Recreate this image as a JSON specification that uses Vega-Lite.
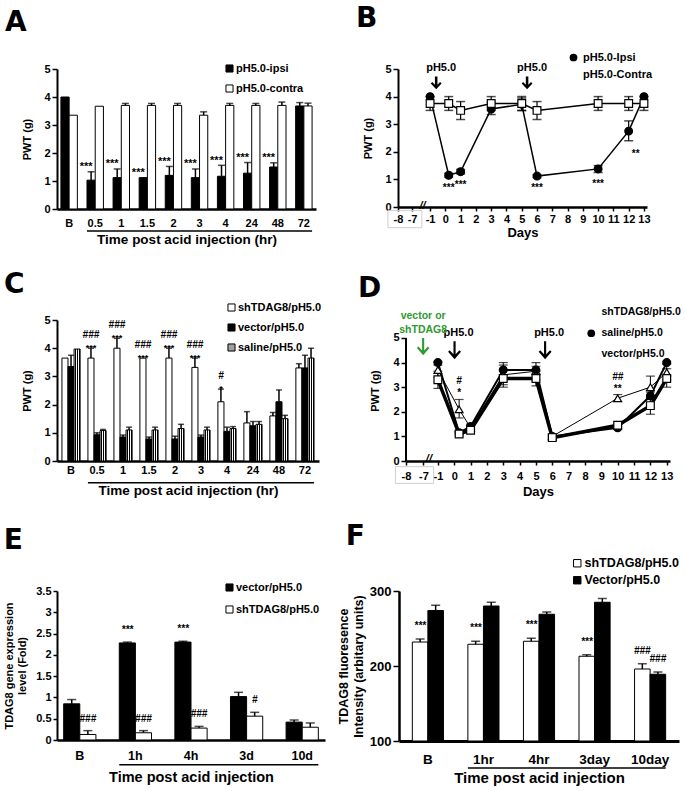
{
"$schema": "https://vega.github.io/schema/vega-lite/v6.json",
"background": "white",
"padding": {"left": 3, "top": 5, "right": 0, "bottom": 0},
"spacing": 25,
"resolve": {"scale": {"x": "independent", "y": "independent", "xOffset": "independent", "fill": "independent", "shape": "independent"}, "legend": {"fill": "independent", "shape": "independent"}, "axis": {"x": "independent", "y": "independent"}},
"config": {
  "font": "Liberation Sans",
  "view": {"stroke": null},
  "title": {"font": "DejaVu Sans", "fontSize": 28, "fontWeight": "bold", "anchor": "start", "frame": "bounds", "color": "black"},
  "axis": {"grid": false, "domainColor": "black", "domainWidth": 2, "tickColor": "black", "tickWidth": 1.5, "tickSize": 5, "labelColor": "black", "labelFont": "Liberation Sans", "labelFontWeight": "bold", "labelFontSize": 11, "titleColor": "black", "titleFont": "Liberation Sans", "titleFontWeight": "bold", "titleFontSize": 11},
  "legend": {"labelFont": "Liberation Sans", "labelFontWeight": "bold", "labelFontSize": 11, "labelColor": "black", "padding": 0, "symbolStrokeColor": "black"},
  "text": {"font": "Liberation Sans", "fontWeight": "bold", "color": "black"}
},
"vconcat": [
{"hconcat": [
{
  "title": {"text": "A", "dx": -17, "offset": 26},
  "width": 259, "height": 140,
  "resolve": {"axis": {"x": "independent", "y": "independent"}},
  "layer": [
  {
    "data": {"values": [
      {"t":"B","g":"pH5.0-ipsi","v":4.0,"hi":4.0,"sig":""},
      {"t":"B","g":"pH5.0-contra","v":3.35,"hi":3.35,"sig":""},
      {"t":"0.5","g":"pH5.0-ipsi","v":1.03,"hi":1.33,"sig":"***"},
      {"t":"0.5","g":"pH5.0-contra","v":3.67,"hi":3.67,"sig":""},
      {"t":"1","g":"pH5.0-ipsi","v":1.12,"hi":1.43,"sig":"***"},
      {"t":"1","g":"pH5.0-contra","v":3.7,"hi":3.77,"sig":""},
      {"t":"1.5","g":"pH5.0-ipsi","v":1.12,"hi":1.12,"sig":"***"},
      {"t":"1.5","g":"pH5.0-contra","v":3.7,"hi":3.77,"sig":""},
      {"t":"2","g":"pH5.0-ipsi","v":1.2,"hi":1.52,"sig":"***"},
      {"t":"2","g":"pH5.0-contra","v":3.7,"hi":3.77,"sig":""},
      {"t":"3","g":"pH5.0-ipsi","v":1.12,"hi":1.43,"sig":"***"},
      {"t":"3","g":"pH5.0-contra","v":3.35,"hi":3.47,"sig":""},
      {"t":"4","g":"pH5.0-ipsi","v":1.17,"hi":1.56,"sig":"***"},
      {"t":"4","g":"pH5.0-contra","v":3.7,"hi":3.77,"sig":""},
      {"t":"24","g":"pH5.0-ipsi","v":1.28,"hi":1.66,"sig":"***"},
      {"t":"24","g":"pH5.0-contra","v":3.7,"hi":3.77,"sig":""},
      {"t":"48","g":"pH5.0-ipsi","v":1.5,"hi":1.65,"sig":"***"},
      {"t":"48","g":"pH5.0-contra","v":3.7,"hi":3.82,"sig":""},
      {"t":"72","g":"pH5.0-ipsi","v":3.68,"hi":3.8,"sig":""},
      {"t":"72","g":"pH5.0-contra","v":3.68,"hi":3.78,"sig":""}
    ]},
    "encoding": {
      "x": {"field": "t", "type": "nominal", "scale": {"domain": ["B","0.5","1","1.5","2","3","4","24","48","72"], "paddingInner": 0.37, "paddingOuter": 0.15}, "axis": {"title": "Time post acid injection (hr)", "labelAngle": 0, "ticks": false, "tickSize": 0, "labelPadding": 8, "titlePadding": 4, "titleFontSize": 13.5, "domainWidth": 2.5}},
      "xOffset": {"field": "g", "type": "nominal", "scale": {"domain": ["pH5.0-ipsi","pH5.0-contra"]}},
      "y": {"field": "v", "type": "quantitative", "scale": {"domain": [0, 5]}, "axis": {"title": "PWT (g)", "values": [0,1,2,3,4,5], "titlePadding": 11}}
    },
    "layer": [
      {"mark": {"type": "bar", "stroke": "black", "strokeWidth": 1},
       "encoding": {"fill": {"field": "g", "type": "nominal", "scale": {"domain": ["pH5.0-ipsi","pH5.0-contra"], "range": ["black","white"]},
         "legend": {"title": null, "orient": "none", "legendX": 167, "legendY": -6, "symbolType": "square", "symbolSize": 50, "symbolStrokeColor": "black", "symbolStrokeWidth": 1, "labelOffset": 1, "rowPadding": 7}}}},
      {"transform": [{"filter": "datum.hi > datum.v"}], "mark": {"type": "rule", "color": "black", "strokeWidth": 1.5}, "encoding": {"y2": {"field": "hi"}}},
      {"transform": [{"filter": "datum.hi > datum.v"}], "mark": {"type": "tick", "orient": "horizontal", "color": "black", "size": 7, "thickness": 1.5}, "encoding": {"y": {"field": "hi", "type": "quantitative"}}},
      {"transform": [{"filter": "datum.sig != ''"}], "mark": {"type": "text", "fill": "black", "fontSize": 11, "dx": -5, "dy": -1.5, "baseline": "alphabetic"}, "encoding": {"y": {"field": "hi", "type": "quantitative"}, "text": {"field": "sig"}}}
    ]
  },
  {
    "data": {"values": [{"a": "0.5", "b": "72"}]},
    "mark": {"type": "rule", "color": "black", "strokeWidth": 1.5},
    "encoding": {
      "x": {"field": "a", "type": "nominal", "bandPosition": 0, "scale": {"domain": ["B","0.5","1","1.5","2","3","4","24","48","72"]}, "axis": null},
      "x2": {"field": "b", "bandPosition": 1},
      "y": {"datum": -0.79, "type": "quantitative", "scale": {"domain": [0, 5]}, "axis": null}
    }
  }
  ]
},
{
  "title": {"text": "B", "dx": -7, "offset": 19},
  "width": 249, "height": 138,
  "resolve": {"axis": {"x": "independent", "y": "independent"}},
  "layer": [
  {
    "data": {"values": [
      {"s":"pH5.0-Ipsi","day":-1,"v":4.0,"lo":4.0,"hi":4.0,"sig":""},
      {"s":"pH5.0-Ipsi","day":0.22,"v":1.15,"lo":1.08,"hi":1.22,"sig":"***"},
      {"s":"pH5.0-Ipsi","day":1,"v":1.28,"lo":1.2,"hi":1.36,"sig":"***"},
      {"s":"pH5.0-Ipsi","day":3,"v":3.55,"lo":3.35,"hi":3.8,"sig":""},
      {"s":"pH5.0-Ipsi","day":5,"v":3.72,"lo":3.5,"hi":3.95,"sig":""},
      {"s":"pH5.0-Ipsi","day":6,"v":1.12,"lo":1.07,"hi":1.17,"sig":"***"},
      {"s":"pH5.0-Ipsi","day":10,"v":1.38,"lo":1.25,"hi":1.5,"sig":"***"},
      {"s":"pH5.0-Ipsi","day":12,"v":2.75,"lo":2.4,"hi":3.12,"sig":"**"},
      {"s":"pH5.0-Ipsi","day":13,"v":4.0,"lo":4.0,"hi":4.0,"sig":""},
      {"s":"pH5.0-Contra","day":-1,"v":3.75,"lo":3.5,"hi":4.0,"sig":""},
      {"s":"pH5.0-Contra","day":0.22,"v":3.75,"lo":3.5,"hi":4.0,"sig":""},
      {"s":"pH5.0-Contra","day":1,"v":3.5,"lo":3.17,"hi":3.82,"sig":""},
      {"s":"pH5.0-Contra","day":3,"v":3.75,"lo":3.5,"hi":4.0,"sig":""},
      {"s":"pH5.0-Contra","day":5,"v":3.75,"lo":3.5,"hi":4.0,"sig":""},
      {"s":"pH5.0-Contra","day":6,"v":3.5,"lo":3.17,"hi":3.82,"sig":""},
      {"s":"pH5.0-Contra","day":10,"v":3.75,"lo":3.5,"hi":4.0,"sig":""},
      {"s":"pH5.0-Contra","day":12,"v":3.75,"lo":3.5,"hi":4.0,"sig":""},
      {"s":"pH5.0-Contra","day":13,"v":3.75,"lo":3.5,"hi":4.0,"sig":""}
    ]},
    "encoding": {
      "x": {"field": "day", "type": "quantitative", "scale": {"domain": [-3.1, 13.2], "nice": false, "zero": false}, "axis": {"title": "Days", "values": [-3.1,-2.18,-1,0,1,2,3,4,5,6,7,8,9,10,11,12,13], "labelExpr": "datum.value < -3 ? '-8' : datum.value < -2 ? '-7' : '' + datum.value", "tickSize": 4, "labelPadding": 2, "titlePadding": 2, "titleFontSize": 13, "labelFlush": false, "labelOverlap": false, "domainWidth": 2.5}},
      "y": {"field": "v", "type": "quantitative", "scale": {"domain": [0, 5]}, "axis": {"title": "PWT (g)", "values": [0,1,2,3,4,5], "titlePadding": 11}}
    },
    "layer": [
      {"mark": {"type": "line", "color": "black", "strokeWidth": 1.5}, "encoding": {"detail": {"field": "s"}}},
      {"transform": [{"filter": "datum.hi > datum.lo"}], "mark": {"type": "rule", "color": "black", "strokeWidth": 1.2}, "encoding": {"y": {"field": "lo", "type": "quantitative"}, "y2": {"field": "hi"}}},
      {"transform": [{"filter": "datum.hi > datum.lo"}], "mark": {"type": "tick", "orient": "horizontal", "color": "black", "size": 9, "thickness": 1.5}, "encoding": {"y": {"field": "lo", "type": "quantitative"}}},
      {"transform": [{"filter": "datum.hi > datum.lo"}], "mark": {"type": "tick", "orient": "horizontal", "color": "black", "size": 9, "thickness": 1.5}, "encoding": {"y": {"field": "hi", "type": "quantitative"}}},
      {"mark": {"type": "point", "color": "black", "stroke": "black", "strokeWidth": 1.2, "opacity": 1, "fillOpacity": 1, "size": 60},
       "encoding": {
         "shape": {"field": "s", "type": "nominal", "scale": {"domain": ["pH5.0-Ipsi","pH5.0-Contra"], "range": ["circle","square"]},
           "legend": {"title": null, "orient": "none", "legendX": 170, "legendY": -17, "labelOffset": 4, "rowPadding": 4, "symbolSize": 60, "symbolStrokeColor": "black", "symbolStrokeWidth": 1.2}},
         "fill": {"field": "s", "type": "nominal", "scale": {"domain": ["pH5.0-Ipsi","pH5.0-Contra"], "range": ["black","white"]},
           "legend": {"title": null, "orient": "none", "legendX": 170, "legendY": -17, "labelOffset": 4, "rowPadding": 4, "symbolSize": 60, "symbolStrokeColor": "black", "symbolStrokeWidth": 1.2}}
       }},
      {"transform": [{"filter": "datum.sig == '***'"}], "mark": {"type": "text", "fill": "black", "fontSize": 10, "dy": 14, "baseline": "alphabetic"}, "encoding": {"y": {"field": "lo", "type": "quantitative"}, "text": {"field": "sig"}}},
      {"transform": [{"filter": "datum.sig == '**'"}], "mark": {"type": "text", "fill": "black", "fontSize": 10, "dx": 7, "dy": 16, "baseline": "alphabetic"}, "encoding": {"y": {"field": "lo", "type": "quantitative"}, "text": {"field": "sig"}}}
    ]
  },
  {
    "data": {"values": [{"day": -0.6, "label": "pH5.0"}, {"day": 5.35, "label": "pH5.0"}]},
    "layer": [
      {"mark": {"type": "point", "filled": true, "color": "black", "opacity": 1, "size": 160, "shape": "M-0.2,-1L0.2,-1L0.2,0.3L0.62,-0.12L0.85,0.12L0,1L-0.85,0.12L-0.62,-0.12L-0.2,0.3Z"},
       "encoding": {"x": {"field": "day", "type": "quantitative", "scale": {"domain": [-3.1, 13.2]}, "axis": null}, "y": {"datum": 4.5, "type": "quantitative", "scale": {"domain": [0, 5]}, "axis": null}}},
      {"mark": {"type": "text", "fill": "black", "fontSize": 11, "dx": 5, "baseline": "middle"},
       "encoding": {"x": {"field": "day", "type": "quantitative", "scale": {"domain": [-3.1, 13.2]}, "axis": null}, "y": {"datum": 5.03, "type": "quantitative", "scale": {"domain": [0, 5]}, "axis": null}, "text": {"field": "label"}}}
    ]
  },
  {
    "data": {"values": [{}]},
    "layer": [
      {"mark": {"type": "rect", "fillOpacity": 0, "stroke": "#cfcfcf", "strokeWidth": 1},
       "encoding": {"x": {"datum": -3.76, "type": "quantitative", "scale": {"domain": [-3.1, 13.2]}, "axis": null}, "x2": {"datum": -1.54}, "y": {"datum": -0.13, "type": "quantitative", "scale": {"domain": [0, 5]}, "axis": null}, "y2": {"datum": -0.75}}},
      {"mark": {"type": "text", "fill": "black", "fontSize": 11, "fontStyle": "italic", "text": "//", "baseline": "middle"},
       "encoding": {"x": {"datum": -1.5, "type": "quantitative", "scale": {"domain": [-3.1, 13.2]}, "axis": null}, "y": {"datum": 0.05, "type": "quantitative", "scale": {"domain": [0, 5]}, "axis": null}}}
    ]
  }
  ]
}
], "spacing": 39, "resolve": {"scale": {"x": "independent", "y": "independent", "xOffset": "independent", "fill": "independent", "shape": "independent"}, "legend": {"fill": "independent", "shape": "independent"}}},
{"hconcat": [
{
  "title": {"text": "C", "dx": -18, "offset": 3},
  "width": 262, "height": 141,
  "resolve": {"axis": {"x": "independent", "y": "independent"}},
  "layer": [
  {
    "data": {"values": [
      {"t":"B","g":"shTDAG8/pH5.0","v":3.65,"hi":3.65,"s1":"","s2":""},
      {"t":"B","g":"vector/pH5.0","v":3.35,"hi":3.75,"s1":"","s2":""},
      {"t":"B","g":"saline/pH5.0","v":3.97,"hi":3.97,"s1":"","s2":""},
      {"t":"0.5","g":"shTDAG8/pH5.0","v":3.65,"hi":4.0,"s1":"***","s2":"###"},
      {"t":"0.5","g":"vector/pH5.0","v":0.93,"hi":1.0,"s1":"","s2":""},
      {"t":"0.5","g":"saline/pH5.0","v":1.08,"hi":1.12,"s1":"","s2":""},
      {"t":"1","g":"shTDAG8/pH5.0","v":4.0,"hi":4.35,"s1":"***","s2":"###"},
      {"t":"1","g":"vector/pH5.0","v":0.85,"hi":0.92,"s1":"","s2":""},
      {"t":"1","g":"saline/pH5.0","v":1.1,"hi":1.2,"s1":"","s2":""},
      {"t":"1.5","g":"shTDAG8/pH5.0","v":3.65,"hi":3.65,"s1":"***","s2":"###"},
      {"t":"1.5","g":"vector/pH5.0","v":0.78,"hi":0.85,"s1":"","s2":""},
      {"t":"1.5","g":"saline/pH5.0","v":1.1,"hi":1.2,"s1":"","s2":""},
      {"t":"2","g":"shTDAG8/pH5.0","v":3.65,"hi":4.0,"s1":"***","s2":"###"},
      {"t":"2","g":"vector/pH5.0","v":0.78,"hi":0.88,"s1":"","s2":""},
      {"t":"2","g":"saline/pH5.0","v":1.15,"hi":1.3,"s1":"","s2":""},
      {"t":"3","g":"shTDAG8/pH5.0","v":3.32,"hi":3.65,"s1":"***","s2":"###"},
      {"t":"3","g":"vector/pH5.0","v":0.85,"hi":0.92,"s1":"","s2":""},
      {"t":"3","g":"saline/pH5.0","v":1.1,"hi":1.2,"s1":"","s2":""},
      {"t":"4","g":"shTDAG8/pH5.0","v":2.1,"hi":2.55,"s1":"*","s2":"#"},
      {"t":"4","g":"vector/pH5.0","v":1.05,"hi":1.2,"s1":"","s2":""},
      {"t":"4","g":"saline/pH5.0","v":1.15,"hi":1.22,"s1":"","s2":""},
      {"t":"24","g":"shTDAG8/pH5.0","v":1.35,"hi":1.75,"s1":"","s2":""},
      {"t":"24","g":"vector/pH5.0","v":1.25,"hi":1.4,"s1":"","s2":""},
      {"t":"24","g":"saline/pH5.0","v":1.3,"hi":1.4,"s1":"","s2":""},
      {"t":"48","g":"shTDAG8/pH5.0","v":1.6,"hi":1.72,"s1":"","s2":""},
      {"t":"48","g":"vector/pH5.0","v":2.1,"hi":2.52,"s1":"","s2":""},
      {"t":"48","g":"saline/pH5.0","v":1.5,"hi":1.62,"s1":"","s2":""},
      {"t":"72","g":"shTDAG8/pH5.0","v":3.3,"hi":3.45,"s1":"","s2":""},
      {"t":"72","g":"vector/pH5.0","v":3.3,"hi":3.75,"s1":"","s2":""},
      {"t":"72","g":"saline/pH5.0","v":3.65,"hi":4.0,"s1":"","s2":""}
    ]},
    "encoding": {
      "x": {"field": "t", "type": "nominal", "scale": {"domain": ["B","0.5","1","1.5","2","3","4","24","48","72"], "paddingInner": 0.3, "paddingOuter": 0.19}, "axis": {"title": "Time post acid injection (hr)", "labelAngle": 0, "ticks": false, "tickSize": 0, "labelPadding": 3, "titlePadding": 8, "titleFontSize": 13.5, "domainWidth": 2.5}},
      "xOffset": {"field": "g", "type": "nominal", "scale": {"domain": ["shTDAG8/pH5.0","vector/pH5.0","saline/pH5.0"]}},
      "y": {"field": "v", "type": "quantitative", "scale": {"domain": [0, 5]}, "axis": {"title": "PWT (g)", "values": [0,1,2,3,4,5], "titlePadding": 11}}
    },
    "layer": [
      {"mark": {"type": "bar", "stroke": "black", "strokeWidth": 1},
       "encoding": {"fill": {
         "condition": {"test": "datum.g === 'saline/pH5.0'", "value": {"gradient": "linear", "x1": 0, "y1": 0, "x2": 1, "y2": 0, "stops": [
           {"offset": 0, "color": "white"}, {"offset": 0.12, "color": "white"}, {"offset": 0.12, "color": "black"}, {"offset": 0.3, "color": "black"},
           {"offset": 0.3, "color": "white"}, {"offset": 0.45, "color": "white"}, {"offset": 0.45, "color": "black"}, {"offset": 0.63, "color": "black"},
           {"offset": 0.63, "color": "white"}, {"offset": 0.78, "color": "white"}, {"offset": 0.78, "color": "black"}, {"offset": 0.96, "color": "black"},
           {"offset": 0.96, "color": "white"}, {"offset": 1, "color": "white"}]}},
         "field": "g", "type": "nominal", "scale": {"domain": ["shTDAG8/pH5.0","vector/pH5.0","saline/pH5.0"], "range": ["white","black","#a0a0a0"]},
         "legend": {"title": null, "orient": "none", "legendX": 169, "legendY": -18, "symbolType": "square", "symbolSize": 50, "symbolStrokeColor": "black", "symbolStrokeWidth": 1, "labelOffset": 1, "rowPadding": 7}}}},
      {"transform": [{"filter": "datum.hi > datum.v"}], "mark": {"type": "rule", "color": "black", "strokeWidth": 1.5}, "encoding": {"y2": {"field": "hi"}}},
      {"transform": [{"filter": "datum.hi > datum.v"}], "mark": {"type": "tick", "orient": "horizontal", "color": "black", "size": 6, "thickness": 1.5}, "encoding": {"y": {"field": "hi", "type": "quantitative"}}},
      {"transform": [{"filter": "datum.s1 != ''"}], "mark": {"type": "text", "fill": "black", "fontSize": 9, "dy": 3, "baseline": "alphabetic"}, "encoding": {"y": {"field": "hi", "type": "quantitative"}, "text": {"field": "s1"}}},
      {"transform": [{"filter": "datum.s2 != ''"}], "mark": {"type": "text", "fill": "black", "fontSize": 10, "fontStyle": "italic", "dy": -10, "baseline": "alphabetic"}, "encoding": {"y": {"field": "hi", "type": "quantitative"}, "text": {"field": "s2"}}}
    ]
  },
  {
    "data": {"values": [{"a": "0.5", "b": "72"}]},
    "mark": {"type": "rule", "color": "black", "strokeWidth": 1.5},
    "encoding": {
      "x": {"field": "a", "type": "nominal", "bandPosition": 0, "scale": {"domain": ["B","0.5","1","1.5","2","3","4","24","48","72"]}, "axis": null},
      "x2": {"field": "b", "bandPosition": 1},
      "y": {"datum": -0.77, "type": "quantitative", "scale": {"domain": [0, 5]}, "axis": null}
    }
  }
  ]
},
{
  "title": {"text": "D", "dx": -12, "offset": 4},
  "width": 264, "height": 141,
  "resolve": {"axis": {"x": "independent", "y": "independent"}},
  "layer": [
  {
    "data": {"values": [
      {"s":"shTDAG8/pH5.0","day":-1,"v":3.7,"lo":3.4,"hi":4.0,"s1":"","s2":""},
      {"s":"shTDAG8/pH5.0","day":0.3,"v":2.1,"lo":1.75,"hi":2.5,"s1":"*","s2":"#"},
      {"s":"shTDAG8/pH5.0","day":1,"v":1.35,"lo":1.28,"hi":1.45,"s1":"","s2":""},
      {"s":"shTDAG8/pH5.0","day":3,"v":3.5,"lo":3.1,"hi":4.0,"s1":"","s2":""},
      {"s":"shTDAG8/pH5.0","day":5,"v":3.65,"lo":3.3,"hi":4.0,"s1":"","s2":""},
      {"s":"shTDAG8/pH5.0","day":6,"v":1.0,"lo":0.9,"hi":1.1,"s1":"","s2":""},
      {"s":"shTDAG8/pH5.0","day":10,"v":2.55,"lo":2.42,"hi":2.7,"s1":"**","s2":"##"},
      {"s":"shTDAG8/pH5.0","day":12,"v":3.0,"lo":2.6,"hi":3.45,"s1":"","s2":""},
      {"s":"shTDAG8/pH5.0","day":13,"v":3.6,"lo":3.3,"hi":3.95,"s1":"","s2":""},
      {"s":"saline/pH5.0","day":-1,"v":4.0,"lo":3.9,"hi":4.05,"s1":"","s2":""},
      {"s":"saline/pH5.0","day":0.3,"v":1.15,"lo":1.1,"hi":1.2,"s1":"","s2":""},
      {"s":"saline/pH5.0","day":1,"v":1.4,"lo":1.3,"hi":1.5,"s1":"","s2":""},
      {"s":"saline/pH5.0","day":3,"v":3.7,"lo":3.5,"hi":3.9,"s1":"","s2":""},
      {"s":"saline/pH5.0","day":5,"v":3.7,"lo":3.55,"hi":3.85,"s1":"","s2":""},
      {"s":"saline/pH5.0","day":6,"v":1.0,"lo":0.95,"hi":1.05,"s1":"","s2":""},
      {"s":"saline/pH5.0","day":10,"v":1.35,"lo":1.28,"hi":1.42,"s1":"","s2":""},
      {"s":"saline/pH5.0","day":12,"v":2.65,"lo":2.5,"hi":2.8,"s1":"","s2":""},
      {"s":"saline/pH5.0","day":13,"v":4.0,"lo":3.95,"hi":4.05,"s1":"","s2":""},
      {"s":"vector/pH5.0","day":-1,"v":3.3,"lo":2.95,"hi":3.65,"s1":"","s2":""},
      {"s":"vector/pH5.0","day":0.3,"v":1.1,"lo":1.02,"hi":1.18,"s1":"","s2":""},
      {"s":"vector/pH5.0","day":1,"v":1.25,"lo":1.15,"hi":1.35,"s1":"","s2":""},
      {"s":"vector/pH5.0","day":3,"v":3.35,"lo":3.0,"hi":3.7,"s1":"","s2":""},
      {"s":"vector/pH5.0","day":5,"v":3.35,"lo":3.05,"hi":3.65,"s1":"","s2":""},
      {"s":"vector/pH5.0","day":6,"v":0.95,"lo":0.85,"hi":1.05,"s1":"","s2":""},
      {"s":"vector/pH5.0","day":10,"v":1.45,"lo":1.32,"hi":1.55,"s1":"","s2":""},
      {"s":"vector/pH5.0","day":12,"v":2.25,"lo":1.9,"hi":2.55,"s1":"","s2":""},
      {"s":"vector/pH5.0","day":13,"v":3.35,"lo":3.0,"hi":3.75,"s1":"","s2":""}
    ]},
    "encoding": {
      "x": {"field": "day", "type": "quantitative", "scale": {"domain": [-2.95, 13.2], "nice": false, "zero": false}, "axis": {"title": "Days", "values": [-2.95,-1.88,-1,0,1,2,3,4,5,6,7,8,9,10,11,12,13], "labelExpr": "datum.value < -2.5 ? '-8' : datum.value < -1.5 ? '-7' : '' + datum.value", "tickSize": 4, "labelPadding": 5, "titlePadding": 4, "titleFontSize": 13, "labelFlush": false, "labelOverlap": false, "domainWidth": 2.5}},
      "y": {"field": "v", "type": "quantitative", "scale": {"domain": [0, 5.73], "nice": false}, "axis": {"title": "PWT (g)", "values": [0,1,2,3,4,5], "titlePadding": 12, "domain": false}}
    },
    "layer": [
      {"transform": [{"filter": "datum.s === 'shTDAG8/pH5.0'"}], "mark": {"type": "line", "color": "black", "strokeWidth": 1}, "encoding": {}},
      {"transform": [{"filter": "datum.s === 'saline/pH5.0'"}], "mark": {"type": "line", "color": "black", "strokeWidth": 2}, "encoding": {}},
      {"transform": [{"filter": "datum.s === 'vector/pH5.0'"}], "mark": {"type": "line", "color": "black", "strokeWidth": 3.5}, "encoding": {}},
      {"mark": {"type": "rule", "color": "black", "strokeWidth": 1}, "encoding": {"y": {"field": "lo", "type": "quantitative"}, "y2": {"field": "hi"}}},
      {"mark": {"type": "tick", "orient": "horizontal", "color": "black", "size": 9, "thickness": 1.2}, "encoding": {"y": {"field": "lo", "type": "quantitative"}}},
      {"mark": {"type": "tick", "orient": "horizontal", "color": "black", "size": 9, "thickness": 1.2}, "encoding": {"y": {"field": "hi", "type": "quantitative"}}},
      {"mark": {"type": "point", "color": "black", "stroke": "black", "strokeWidth": 1.2, "opacity": 1, "fillOpacity": 1, "size": 60},
       "encoding": {
         "shape": {"field": "s", "type": "nominal", "scale": {"domain": ["shTDAG8/pH5.0","saline/pH5.0","vector/pH5.0"], "range": ["triangle-up","circle","square"]},
           "legend": {"title": null, "orient": "none", "legendX": 180, "legendY": -13, "labelOffset": 5, "rowPadding": 7, "labelFontSize": 10.5, "symbolSize": 60, "symbolStrokeColor": "black", "symbolStrokeWidth": 1.2}},
         "fill": {"field": "s", "type": "nominal", "scale": {"domain": ["shTDAG8/pH5.0","saline/pH5.0","vector/pH5.0"], "range": ["white","black","white"]},
           "legend": {"title": null, "orient": "none", "legendX": 180, "legendY": -13, "labelOffset": 5, "rowPadding": 7, "labelFontSize": 10.5, "symbolSize": 60, "symbolStrokeColor": "black", "symbolStrokeWidth": 1.2}}
       }},
      {"transform": [{"filter": "datum.s1 != ''"}], "mark": {"type": "text", "fill": "black", "fontSize": 10, "dy": -3, "baseline": "alphabetic"}, "encoding": {"y": {"field": "hi", "type": "quantitative"}, "text": {"field": "s1"}}},
      {"transform": [{"filter": "datum.s2 != ''"}], "mark": {"type": "text", "fill": "black", "fontSize": 10, "fontStyle": "italic", "dy": -15, "baseline": "alphabetic"}, "encoding": {"y": {"field": "hi", "type": "quantitative"}, "text": {"field": "s2"}}}
    ]
  },
  {
    "data": {"values": [{"day": 0.02, "label": "pH5.0"}, {"day": 5.56, "label": "pH5.0"}]},
    "layer": [
      {"mark": {"type": "point", "filled": true, "color": "black", "opacity": 1, "size": 320, "shape": "M-0.12,-1L0.12,-1L0.12,0.45L0.55,0L0.72,0.17L0,1L-0.72,0.17L-0.55,0L-0.12,0.45Z"},
       "encoding": {"x": {"field": "day", "type": "quantitative", "scale": {"domain": [-2.95, 13.2]}, "axis": null}, "y": {"datum": 4.5, "type": "quantitative", "scale": {"domain": [0, 5.73]}, "axis": null}}},
      {"mark": {"type": "text", "fill": "black", "fontSize": 11, "dx": 4, "baseline": "middle"},
       "encoding": {"x": {"field": "day", "type": "quantitative", "scale": {"domain": [-2.95, 13.2]}, "axis": null}, "y": {"datum": 5.2, "type": "quantitative", "scale": {"domain": [0, 5.73]}, "axis": null}, "text": {"field": "label"}}}
    ]
  },
  {
    "data": {"values": [{"day": -1.9, "label": "vector or\nshTDAG8"}]},
    "layer": [
      {"mark": {"type": "point", "filled": true, "color": "#2f9a2f", "opacity": 1, "size": 300, "shape": "M-0.12,-1L0.12,-1L0.12,0.45L0.55,0L0.72,0.17L0,1L-0.72,0.17L-0.55,0L-0.12,0.45Z"},
       "encoding": {"x": {"field": "day", "type": "quantitative", "scale": {"domain": [-2.95, 13.2]}, "axis": null}, "y": {"datum": 4.65, "type": "quantitative", "scale": {"domain": [0, 5.73]}, "axis": null}}},
      {"mark": {"type": "text", "fontSize": 10.5, "fill": "#2f9a2f", "baseline": "middle", "lineBreak": "\n", "lineHeight": 14},
       "encoding": {"x": {"field": "day", "type": "quantitative", "scale": {"domain": [-2.95, 13.2]}, "axis": null}, "y": {"datum": 5.9, "type": "quantitative", "scale": {"domain": [0, 5.73]}, "axis": null}, "text": {"field": "label"}}}
    ]
  },
  {
    "data": {"values": [{}]},
    "layer": [
      {"mark": {"type": "rule", "color": "black", "strokeWidth": 2},
       "encoding": {"x": {"datum": -2.95, "type": "quantitative", "scale": {"domain": [-2.95, 13.2]}, "axis": null}, "y": {"datum": 0, "type": "quantitative", "scale": {"domain": [0, 5.73]}, "axis": null}, "y2": {"datum": 5}}},
      {"mark": {"type": "rect", "fillOpacity": 0, "stroke": "#cfcfcf", "strokeWidth": 1},
       "encoding": {"x": {"datum": -3.6, "type": "quantitative", "scale": {"domain": [-2.95, 13.2]}, "axis": null}, "x2": {"datum": -1.26}, "y": {"datum": -0.23, "type": "quantitative", "scale": {"domain": [0, 5.73]}, "axis": null}, "y2": {"datum": -0.91}}},
      {"mark": {"type": "text", "fill": "black", "fontSize": 11, "fontStyle": "italic", "text": "//", "baseline": "middle"},
       "encoding": {"x": {"datum": -1.55, "type": "quantitative", "scale": {"domain": [-2.95, 13.2]}, "axis": null}, "y": {"datum": 0.08, "type": "quantitative", "scale": {"domain": [0, 5.73]}, "axis": null}}}
    ]
  }
  ]
}
], "spacing": 35, "resolve": {"scale": {"x": "independent", "y": "independent", "xOffset": "independent", "fill": "independent", "shape": "independent"}, "legend": {"fill": "independent", "shape": "independent"}}},
{"hconcat": [
{
  "title": {"text": "E", "dx": 0, "offset": 27},
  "width": 268, "height": 149,
  "resolve": {"axis": {"x": "independent", "y": "independent"}},
  "layer": [
  {
    "data": {"values": [
      {"t":"B","g":"vector/pH5.0","v":0.85,"hi":0.95,"sig":""},
      {"t":"B","g":"shTDAG8/pH5.0","v":0.13,"hi":0.22,"sig":"###"},
      {"t":"1h","g":"vector/pH5.0","v":2.28,"hi":2.3,"sig":"***"},
      {"t":"1h","g":"shTDAG8/pH5.0","v":0.17,"hi":0.22,"sig":"###"},
      {"t":"4h","g":"vector/pH5.0","v":2.3,"hi":2.32,"sig":"***"},
      {"t":"4h","g":"shTDAG8/pH5.0","v":0.28,"hi":0.32,"sig":"###"},
      {"t":"3d","g":"vector/pH5.0","v":1.02,"hi":1.12,"sig":""},
      {"t":"3d","g":"shTDAG8/pH5.0","v":0.56,"hi":0.65,"sig":"#"},
      {"t":"10d","g":"vector/pH5.0","v":0.42,"hi":0.47,"sig":""},
      {"t":"10d","g":"shTDAG8/pH5.0","v":0.3,"hi":0.4,"sig":""}
    ]},
    "encoding": {
      "x": {"field": "t", "type": "nominal", "scale": {"domain": ["B","1h","4h","3d","10d"], "paddingInner": 0.42, "paddingOuter": 0.12}, "axis": {"title": "Time post acid injection", "labelAngle": 0, "ticks": false, "tickSize": 0, "labelPadding": 9, "titlePadding": 9, "titleFontSize": 14.5, "labelFontSize": 12.5, "domainWidth": 2.5}},
      "xOffset": {"field": "g", "type": "nominal", "scale": {"domain": ["vector/pH5.0","shTDAG8/pH5.0"]}},
      "y": {"field": "v", "type": "quantitative", "scale": {"domain": [0, 3.5]}, "axis": {"title": ["TDAG8 gene expression", "level (Fold)"], "values": [0,0.5,1,1.5,2,2.5,3,3.5], "format": "~g", "titlePadding": 8, "tickSize": 4}}
    },
    "layer": [
      {"mark": {"type": "bar", "stroke": "black", "strokeWidth": 1},
       "encoding": {"fill": {"field": "g", "type": "nominal", "scale": {"domain": ["vector/pH5.0","shTDAG8/pH5.0"], "range": ["black","white"]},
         "legend": {"title": null, "orient": "none", "legendX": 167, "legendY": -9, "symbolType": "square", "symbolSize": 50, "symbolStrokeColor": "black", "symbolStrokeWidth": 1, "labelOffset": 1, "rowPadding": 9}}}},
      {"transform": [{"filter": "datum.hi > datum.v"}], "mark": {"type": "rule", "color": "black", "strokeWidth": 1.5}, "encoding": {"y2": {"field": "hi"}}},
      {"transform": [{"filter": "datum.hi > datum.v"}], "mark": {"type": "tick", "orient": "horizontal", "color": "black", "size": 9, "thickness": 1.5}, "encoding": {"y": {"field": "hi", "type": "quantitative"}}},
      {"transform": [{"filter": "datum.sig != ''"}], "mark": {"type": "text", "fill": "black", "fontSize": 10, "fontStyle": "italic", "dy": -9, "baseline": "alphabetic"}, "encoding": {"y": {"field": "hi", "type": "quantitative"}, "text": {"field": "sig"}}}
    ]
  },
  {
    "data": {"values": [{"a": "1h", "b": "10d"}]},
    "mark": {"type": "rule", "color": "black", "strokeWidth": 1.5},
    "encoding": {
      "x": {"field": "a", "type": "nominal", "bandPosition": 0, "scale": {"domain": ["B","1h","4h","3d","10d"]}, "axis": null},
      "x2": {"field": "b", "bandPosition": 1},
      "y": {"datum": -0.58, "type": "quantitative", "scale": {"domain": [0, 3.5]}, "axis": null}
    }
  }
  ]
},
{
  "title": {"text": "F", "dx": 8, "offset": 6},
  "width": 280, "height": 150,
  "resolve": {"axis": {"x": "independent", "y": "independent"}},
  "layer": [
  {
    "data": {"values": [
      {"t":"B","g":"shTDAG8/pH5.0","v":232,"hi":236,"sig":"***"},
      {"t":"B","g":"Vector/pH5.0","v":274,"hi":281,"sig":""},
      {"t":"1hr","g":"shTDAG8/pH5.0","v":229,"hi":233,"sig":"***"},
      {"t":"1hr","g":"Vector/pH5.0","v":280,"hi":285,"sig":""},
      {"t":"4hr","g":"shTDAG8/pH5.0","v":233,"hi":237,"sig":"***"},
      {"t":"4hr","g":"Vector/pH5.0","v":269,"hi":272,"sig":""},
      {"t":"3day","g":"shTDAG8/pH5.0","v":213,"hi":215,"sig":"***"},
      {"t":"3day","g":"Vector/pH5.0","v":285,"hi":290,"sig":""},
      {"t":"10day","g":"shTDAG8/pH5.0","v":196,"hi":203,"sig":"###"},
      {"t":"10day","g":"Vector/pH5.0","v":189,"hi":192,"sig":"###"}
    ]},
    "encoding": {
      "x": {"field": "t", "type": "nominal", "scale": {"domain": ["B","1hr","4hr","3day","10day"], "paddingInner": 0.44, "paddingOuter": 0.24}, "axis": {"title": "Time post acid injection", "labelAngle": 0, "ticks": false, "tickSize": 0, "labelPadding": 11, "titlePadding": 5, "titleFontSize": 15, "labelFontSize": 13.5, "domainWidth": 3}},
      "xOffset": {"field": "g", "type": "nominal", "scale": {"domain": ["shTDAG8/pH5.0","Vector/pH5.0"]}},
      "y": {"field": "v", "type": "quantitative", "scale": {"domain": [100, 300], "zero": false}, "axis": {"title": ["TDAG8 fluoresence", "Intensity (arbitary units)"], "values": [100,200,300], "titlePadding": 4, "titleFontSize": 12.5, "labelFontSize": 13, "tickSize": 6, "domainWidth": 2.5}}
    },
    "layer": [
      {"mark": {"type": "bar", "stroke": "black", "strokeWidth": 1},
       "encoding": {"y2": {"datum": 100}, "fill": {"field": "g", "type": "nominal", "scale": {"domain": ["shTDAG8/pH5.0","Vector/pH5.0"], "range": ["white","black"]},
         "legend": {"title": null, "orient": "none", "legendX": 172, "legendY": -34, "symbolType": "square", "symbolSize": 55, "symbolStrokeColor": "black", "symbolStrokeWidth": 1, "labelOffset": 1, "rowPadding": 4, "labelFontSize": 12.5}}}},
      {"transform": [{"filter": "datum.hi > datum.v"}], "mark": {"type": "rule", "color": "black", "strokeWidth": 1.5}, "encoding": {"y2": {"field": "hi"}}},
      {"transform": [{"filter": "datum.hi > datum.v"}], "mark": {"type": "tick", "orient": "horizontal", "color": "black", "size": 9, "thickness": 1.5}, "encoding": {"y": {"field": "hi", "type": "quantitative"}}},
      {"transform": [{"filter": "datum.sig != ''"}], "mark": {"type": "text", "fill": "black", "fontSize": 10, "fontStyle": "italic", "dy": -10, "baseline": "alphabetic"}, "encoding": {"y": {"field": "hi", "type": "quantitative"}, "text": {"field": "sig"}}}
    ]
  },
  {
    "data": {"values": [{"a": "1hr", "b": "10day"}]},
    "mark": {"type": "rule", "color": "black", "strokeWidth": 1.5},
    "encoding": {
      "x": {"field": "a", "type": "nominal", "bandPosition": 0, "scale": {"domain": ["B","1hr","4hr","3day","10day"]}, "axis": null},
      "x2": {"field": "b", "bandPosition": 1},
      "y": {"datum": 64, "type": "quantitative", "scale": {"domain": [100, 300], "zero": false}, "axis": null}
    }
  }
  ]
}
], "spacing": 12, "resolve": {"scale": {"x": "independent", "y": "independent", "xOffset": "independent", "fill": "independent", "shape": "independent"}, "legend": {"fill": "independent", "shape": "independent"}}}
]
}
